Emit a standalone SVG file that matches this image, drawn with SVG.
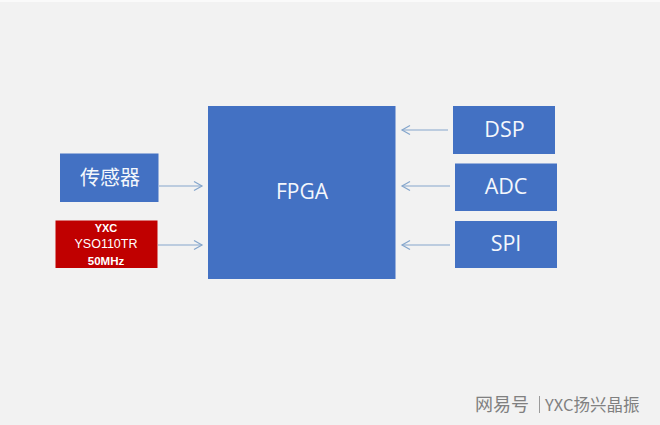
<svg xmlns="http://www.w3.org/2000/svg" width="660" height="425" viewBox="0 0 660 425">
<defs>
<marker id="a" markerUnits="userSpaceOnUse" markerWidth="12" markerHeight="12" refX="9" refY="5" orient="auto"><path d="M1 .5 9 5 1 9.500" fill="none" stroke="#85a6cc" stroke-width="1.200"/></marker>
</defs>
<style>
.b{fill:#4371c3}
.t{font-family:"Open Sans","Noto Sans CJK SC",sans-serif;fill:#f4f7fc;text-anchor:middle}
.r{font-family:"Liberation Sans","Noto Sans",sans-serif;fill:#fff;text-anchor:middle;font-size:11px}
.c{fill:none;stroke:#85a6cc;stroke-width:1.200;marker-end:url(#a)}
</style>
<rect width="660" height="425" fill="#f2f2f2"/>
<rect width="660" height="2" fill="#fafafa"/>
<g id="connectors">
<path class="c" d="M159 186H202"/>
<path class="c" d="M158 245H202"/>
<path class="c" d="M448 130H402"/>
<path class="c" d="M450 186H402"/>
<path class="c" d="M450 245H402"/>
</g>
<g id="fpga"><rect class="b" x="208" y="106" width="187.500" height="173"/><text class="t" x="302" y="199" font-size="21">FPGA</text></g>
<g id="sensor"><rect class="b" x="60" y="153.500" width="98.500" height="48.500"/><text class="t" x="110" y="185" font-size="20" style="font-family:'Noto Sans CJK SC',sans-serif">传感器</text></g>
<g id="yxc"><rect x="55.500" y="220.500" width="102" height="47.500" fill="#c00000"/>
<text class="r" x="106" y="232" style="font-weight:700">YXC</text>
<text class="r" x="106" y="248" style="font-size:12.500px">YSO110TR</text>
<text class="r" x="106" y="264.500" style="font-weight:700;font-size:11.500px">50MHz</text></g>
<g id="dsp"><rect class="b" x="453" y="106" width="102" height="48"/><text class="t" x="504.500" y="136.500" font-size="21.500">DSP</text></g>
<g id="adc"><rect class="b" x="455" y="163.500" width="102" height="47.500"/><text class="t" x="506" y="194" font-size="21.500">ADC</text></g>
<g id="spi"><rect class="b" x="455" y="221" width="102" height="47"/><text class="t" x="506" y="251" font-size="21.500">SPI</text></g>
<g id="watermark" style="font-family:'Noto Sans CJK SC',sans-serif;fill:#808080">
<text x="475" y="411" style="font-size:18px">网易号</text>
<rect x="539" y="396" width="1" height="17" fill="#9a9a9a"/>
<text x="545" y="411" style="font-size:16.500px">YXC扬兴晶振</text>
</g>
</svg>
